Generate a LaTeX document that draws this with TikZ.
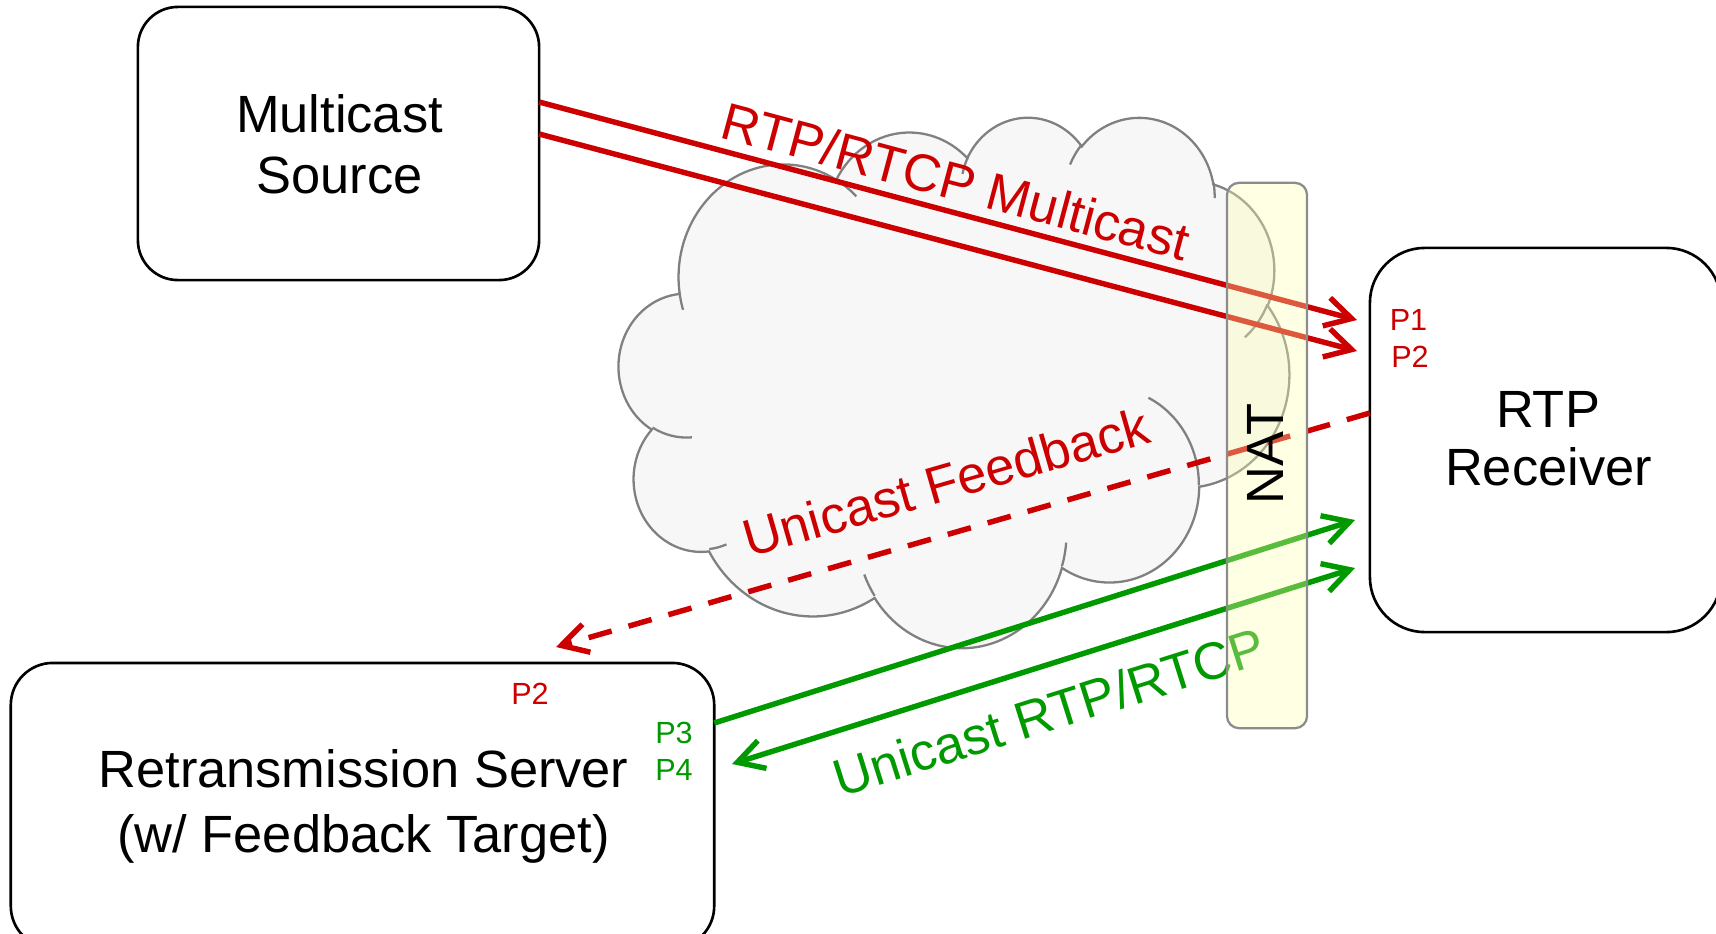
\documentclass[tikz,border=0pt]{standalone}
\usepackage{fontspec}
\setmainfont{Liberation Sans}
\usetikzlibrary{arrows.meta}
\definecolor{rred}{RGB}{204,0,0}
\definecolor{ggreen}{RGB}{0,153,0}
\definecolor{cloudfill}{RGB}{247,247,247}
\definecolor{cloudline}{RGB}{128,128,128}
\definecolor{natfill}{RGB}{255,255,175}
\definecolor{natline}{RGB}{140,140,140}
\tikzset{
  varc/.style n args={4}{insert path={arc[x radius=#1, y radius=#2,
     start angle={atan2((#1)*sin(#3),(#2)*cos(#3))},
     delta angle={mod(atan2((#1)*sin((#3)+(#4)),(#2)*cos((#3)+(#4)))-atan2((#1)*sin(#3),(#2)*cos(#3))+720,360)}]}},
  box/.style={draw=black, line width=0.75pt, fill=white, inner sep=0pt, outer sep=0pt},
  lbl/.style={font=\fontsize{14.9pt}{17.4pt}\selectfont, anchor=base, inner sep=0pt},
  port/.style={font=\fontsize{8.7pt}{10pt}\selectfont, anchor=base, inner sep=0pt},
  flow/.style={line width=1.55pt},
  cloudpath/.style={draw=cloudline, line width=0.65pt},
}
\begin{document}
\begin{tikzpicture}[x=0.01cm, y=-0.01cm, >={Straight Barb[length=2.6mm,width=2.9mm]}]
\useasboundingbox (0,0) rectangle (1716,933);
\clip (0,0) rectangle (1716,933);

% cloud
\begin{scope}[shift={(619,116)}, x=0.015509cm, y=-0.012269cm]
\draw[cloudpath, fill=cloudfill] (39.00,143.70)
  [varc={67.53}{91.90}{-190.4875}{123.7805}]
  [varc={53.33}{72.67}{-144.1024}{89.9452}]
  [varc={43.65}{59.45}{-145.8079}{99.7230}]
  [varc={48.57}{65.95}{-130.9861}{117.2417}]
  [varc={53.33}{72.73}{-78.7089}{109.0269}]
  [varc={67.75}{92.20}{-46.2673}{130.2690}]
  [varc={57.85}{78.67}{0.6250}{114.0333}]
  [varc={67.52}{92.15}{22.4516}{115.1726}]
  [varc={77.20}{105.43}{66.2426}{75.7110}]
  [varc={43.60}{59.18}{-274.9421}{146.7356}]
  [varc={43.45}{59.45}{-246.8285}{152.5189}]
  -- cycle;
\draw[cloudpath]
  (46.93,261.77) [varc={43.45}{59.45}{86.7420}{26.4295}]
  (69.28,348.99) [varc={43.60}{59.18}{73.6105}{11.4475}]
  (164.78,390.90) [varc={67.52}{92.15}{137.6242}{14.0811}]
  (288.27,347.51) [varc={67.52}{92.15}{6.4533}{15.9984}]
  (341.29,229.54) [varc={57.85}{78.67}{-70.2924}{70.9174}]
  (417.98,153.54) [varc={53.33}{72.73}{30.3180}{27.7515}]
  (383.24,54.26) [varc={48.57}{65.95}{-13.7443}{14.8589}]
  (290.78,39.52) [varc={48.57}{65.95}{-149.1815}{18.1954}]
  (221.41,47.20) [varc={43.65}{59.45}{-163.4943}{17.6864}]
  (140.00,51.92) [varc={67.53}{91.90}{-66.7070}{12.3194}]
  (41.27,157.89) [varc={67.53}{91.90}{157.6544}{11.8582}];
\end{scope}

% boxes
\node[box, rounded corners=4mm, minimum width=40.1mm, minimum height=27.3mm] (ms) at (338.5,143.5) {};
\node[box, rounded corners=5.5mm, minimum width=35.1mm, minimum height=38.4mm] (rx) at (1545.5,440) {};
\node[box, rounded corners=4.2mm, minimum width=70.3mm, minimum height=28.5mm] (rs) at (362.5,805.5) {};

% box texts
\node[lbl] (ms1) at (339.5,132) {Multicast};
\node[lbl] (ms2) at (339.5,193) {Source};
\node[lbl] (rx1) at (1548,427) {RTP};
\node[lbl] (rx2) at (1548.5,485) {Receiver};
\node[lbl] (rs1) at (363.5,787) {Retransmission Server};
\node[lbl] (rs2) at (363.5,852) {(w/ Feedback Target)};

% ports
\node[port, text=rred] (p1) at (1408.5,330) {P1};
\node[port, text=rred] (p2) at (1410,367) {P2};
\node[port, text=rred] (sp2) at (530,704) {P2};
\node[port, text=ggreen] (p3) at (674,743) {P3};
\node[port, text=ggreen] (p4) at (674,780) {P4};

% connector end points
\coordinate (rxA) at (1357,320);
\coordinate (rxB) at (1357,351);
\coordinate (rsT) at (556,647);
\coordinate (rxC) at (1355,520);
\coordinate (rxD) at (1355,568);
\coordinate (rsE) at (732,764);

% connectors
\draw[flow, rred, ->] (ms.east |- 0,102) -- (rxA);
\draw[flow, rred, ->] (ms.east |- 0,134) -- (rxB);
\draw[flow, rred, ->, dash pattern=on 2.4mm off 1.75mm] (rx.west |- 0,413) -- (rsT);
\draw[flow, ggreen, ->] (rs.east |- 0,723) -- (rxC);
\draw[flow, ggreen, <->] (rsE) -- (rxD);

% connector labels
\node[lbl, text=rred, rotate=-14.92] (lm) at (951,199) {RTP/RTCP Multicast};
\node[lbl, text=rred, rotate=16.04] (lf) at (951,500) {Unicast Feedback};
\node[lbl, text=ggreen, rotate=17.5] (lu) at (1055,730) {Unicast RTP/RTCP};

% NAT
\node[draw=natline, line width=0.65pt, fill=natfill, fill opacity=0.35, rounded corners=1.2mm,
      minimum width=8mm, minimum height=54.5mm, inner sep=0pt] (nat) at (1267,455.5) {};
\node[lbl, rotate=90] (natt) at (1283,454) {NAT};
\end{tikzpicture}
\end{document}
